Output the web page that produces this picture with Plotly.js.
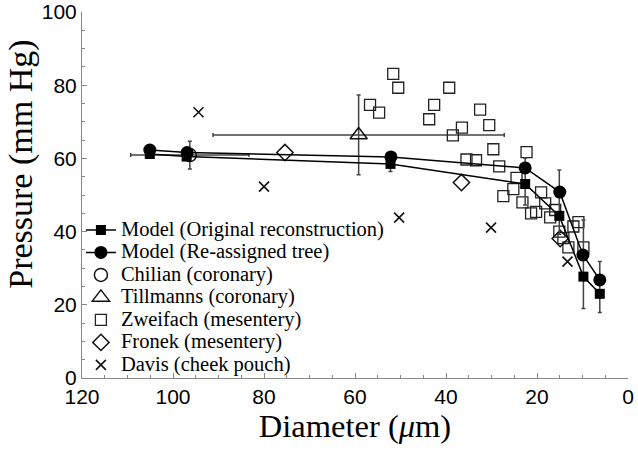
<!DOCTYPE html>
<html>
<head>
<meta charset="utf-8">
<script src="https://cdn.plot.ly/plotly-3.0.1.min.js"></script>
<style>
  body { margin: 0; background: #fff; }
  #chart { width: 638px; height: 452px; }
</style>
</head>
<body>
<div id="chart"></div>
<script>
// model curves
var origDiam = [105.1, 97, 52.2, 22.6, 15.1, 9.8, 6.2];
var origPress = [61.2, 60.5, 58.5, 53.0, 44.3, 27.7, 23.0];
var origErrPlus = [0, 0, 2.0, 7.1, 12.5, 15.5, 8.8];
var origErrMinus = [0, 0, 2.1, 5.7, 5.0, 8.7, 5.1];
var reDiam = [105.1, 96.9, 52.1, 22.6, 15.0, 9.9, 6.2];
var rePress = [62.3, 61.6, 60.4, 57.4, 50.8, 33.6, 26.8];

// experimental data
var chilianDiam = [96.3];
var chilianPress = [60.9];
var chilianErrY = [3.8];
var chilianErrX = [13];

var tillDiam = [59.2];
var tillPress = [66.4];
var tillErrX = [32];
var tillErrY = [10.9];

var zweiDiam = [51.6, 50.5, 56.7, 54.7, 39.3, 42.6, 43.7, 32.5, 30.5, 36.5, 38.5, 29.6, 22.3,
  35.5, 33.4, 28.3, 24.5, 25.2, 27.4, 19.1, 23.2, 21.3, 20.2, 18.2, 17.1, 16.0, 10.9, 12.0,
  15.1, 14.2, 13.1, 9.8];
var zweiPress = [83.1, 79.3, 74.6, 72.5, 79.3, 74.6, 70.7, 73.3, 69.1, 68.4, 66.3, 62.5, 61.7,
  59.7, 59.5, 57.8, 54.7, 51.6, 49.7, 50.7, 48.0, 45.0, 45.4, 47.7, 43.9, 45.9, 42.6, 41.4,
  40.0, 38.2, 35.7, 35.7];

var fronekDiam = [75.4, 36.6, 14.9];
var fronekPress = [61.6, 53.4, 38.1];

var davisDiam = [94.4, 80, 50.3, 30.1, 13.3];
var davisPress = [72.6, 52.3, 43.8, 41.1, 31.8];

var errColor = '#444444';
var serif = 'Liberation Serif, Times New Roman, serif';

// legend text drawn larger than the legend row height
function lab(s) {
  return '<span style="font-size:20.5px">' + s + '</span>';
}

var chilian = {
  name: lab('Chilian (coronary)'),
  x: chilianDiam, y: chilianPress,
  mode: 'markers', type: 'scatter',
  marker: { symbol: 'circle-open', size: 13, color: '#111', line: { width: 1.5 } },
  error_y: { type: 'data', array: chilianErrY, color: errColor, thickness: 1.5, width: 2 },
  error_x: { type: 'data', array: chilianErrX, color: errColor, thickness: 1.5, width: 2 },
  legendrank: 3,
};

var tillmanns = {
  name: lab('Tillmanns (coronary)'),
  x: tillDiam, y: tillPress,
  mode: 'markers', type: 'scatter',
  marker: { symbol: 'triangle-up-open', size: 15, color: '#111', line: { width: 1.5 } },
  error_y: { type: 'data', array: tillErrY, color: errColor, thickness: 1.5, width: 2 },
  error_x: { type: 'data', array: tillErrX, color: errColor, thickness: 1.5, width: 2 },
  legendrank: 4,
};

var zweifach = {
  name: lab('Zweifach (mesentery)'),
  x: zweiDiam, y: zweiPress,
  mode: 'markers', type: 'scatter',
  marker: { symbol: 'square-open', size: 11, color: '#222', line: { width: 1.3 } },
  legendrank: 5,
};

var fronek = {
  name: lab('Fronek (mesentery)'),
  x: fronekDiam, y: fronekPress,
  mode: 'markers', type: 'scatter',
  marker: { symbol: 'diamond-open', size: 12.5, color: '#111', line: { width: 1.5 } },
  legendrank: 6,
};

var davis = {
  name: lab('Davis (cheek pouch)'),
  x: davisDiam, y: davisPress,
  mode: 'markers', type: 'scatter',
  marker: { symbol: 'x-thin-open', size: 10, color: '#111', line: { width: 1.6 } },
  legendrank: 7,
};

var original = {
  name: lab('Model (Original reconstruction)'),
  x: origDiam, y: origPress,
  mode: 'lines+markers', type: 'scatter',
  line: { color: '#000', width: 1.5 },
  marker: { symbol: 'square', size: 10, color: '#000' },
  error_y: { type: 'data', symmetric: false, array: origErrPlus, arrayminus: origErrMinus,
    color: errColor, thickness: 1.5, width: 2 },
  legendrank: 1,
};

var reassigned = {
  name: lab('Model (Re-assigned tree)'),
  x: reDiam, y: rePress,
  mode: 'lines+markers', type: 'scatter',
  line: { color: '#000', width: 1.5 },
  marker: { symbol: 'circle', size: 13, color: '#000' },
  legendrank: 2,
};

// data drawn first so the model curves sit on top
var plotData = [chilian, tillmanns, zweifach, fronek, davis, original, reassigned];

var layout = {
  width: 638,
  height: 452,
  margin: { l: 82, r: 10, t: 12, b: 74 },
  paper_bgcolor: '#fff',
  plot_bgcolor: '#fff',
  font: { family: 'Liberation Sans, Arial, sans-serif', color: '#000', size: 21 },
  showlegend: true,
  legend: {
    x: -0.002, xanchor: 'left',
    y: 0.449, yanchor: 'top',
    bgcolor: 'rgba(0,0,0,0)',
    font: { family: serif, size: 15 },
    itemwidth: 30,
    tracegroupgap: 0,
    traceorder: 'normal',
  },
  xaxis: {
    range: [120, 0],
    tickvals: [120, 100, 80, 60, 40, 20, 0],
    ticks: 'inside', ticklen: 5, tickcolor: '#888',
    minor: { dtick: 5, ticks: 'inside', ticklen: 3, tickcolor: '#888' },
    showline: true, linecolor: '#888', linewidth: 1,
    showgrid: false, zeroline: false,
    title: {
      text: 'Diameter (<i>μ</i>m)',
      font: { family: serif, size: 32.5 },
      standoff: 6,
    },
  },
  yaxis: {
    range: [0, 100],
    tickvals: [0, 20, 40, 60, 80, 100],
    ticks: 'inside', ticklen: 5, tickcolor: '#888',
    minor: { dtick: 5, ticks: 'inside', ticklen: 3, tickcolor: '#888' },
    showline: true, linecolor: '#888', linewidth: 1,
    showgrid: false, zeroline: false,
  },
  annotations: [{
    text: 'Pressure (mm Hg)',
    xref: 'paper', yref: 'paper',
    x: -0.112, xanchor: 'center',
    y: 0.585, yanchor: 'middle',
    textangle: -90, showarrow: false,
    font: { family: serif, size: 34 },
  }],
};

Plotly.newPlot('chart', plotData, layout, { displayModeBar: false });
</script>
</body>
</html>
